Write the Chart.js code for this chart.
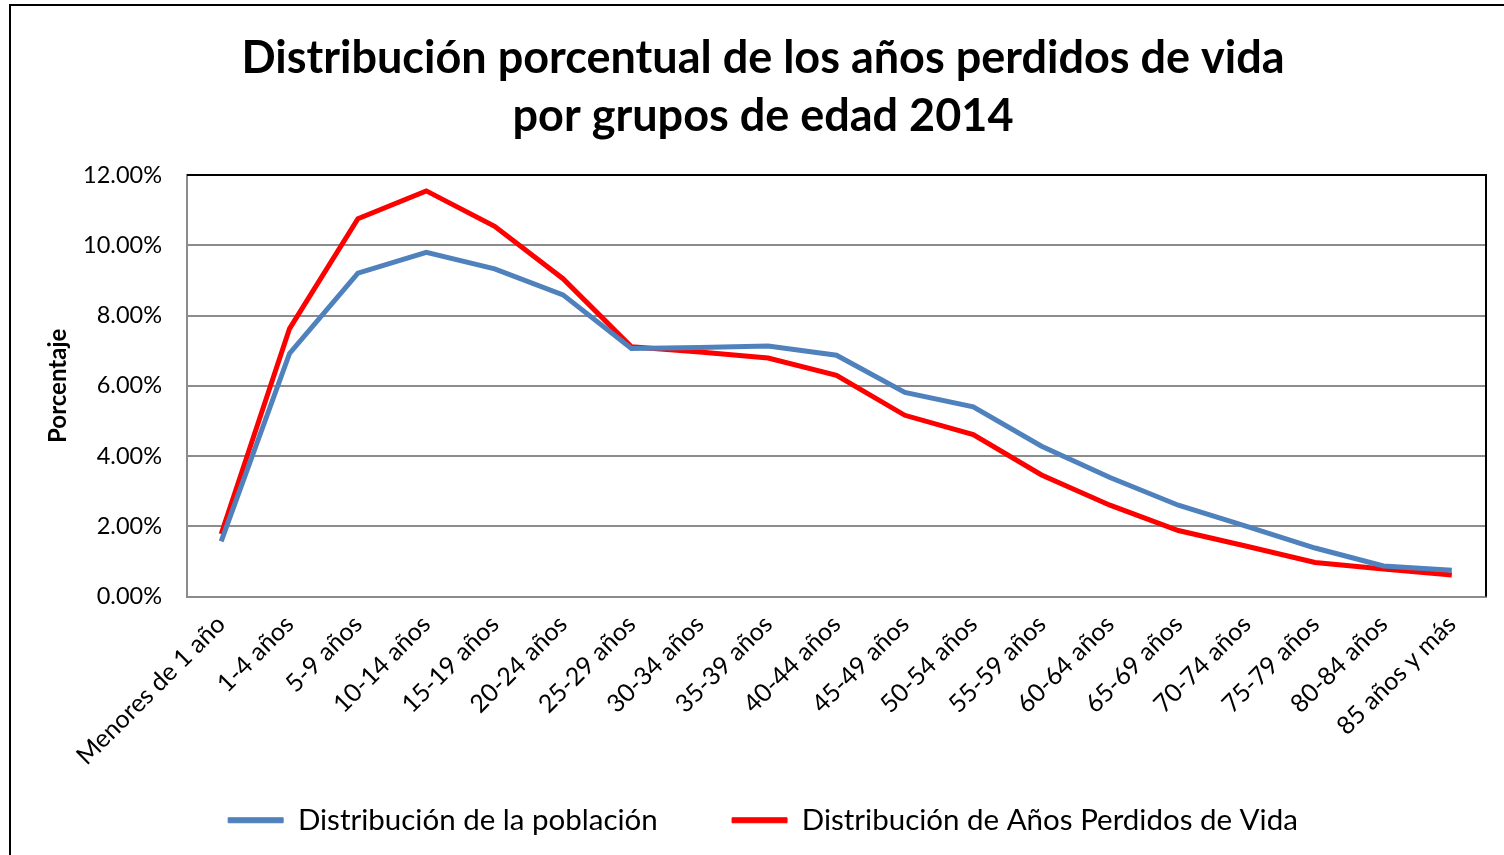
<!DOCTYPE html>
<html>
<head>
<meta charset="utf-8">
<script src="https://cdn.jsdelivr.net/npm/chart.js@4.4.1/dist/chart.umd.min.js"></script>
<style>
    html, body { margin: 0; padding: 0; background: #fff; overflow: hidden; }
    #frame { position: absolute; left: 9px; top: 4px; width: 1600px; height: 1000px; border: 2px solid #000; }
    #wrap { position: absolute; left: 0; top: 0; width: 1504px; height: 855px; }
</style>
</head>
<body>
<div id="frame"></div>
<div id="wrap"><canvas id="chart"></canvas></div>
<script>
const categories = ['Menores de 1 año', '1-4 años', '5-9 años', '10-14 años', '15-19 años', '20-24 años',
    '25-29 años', '30-34 años', '35-39 años', '40-44 años', '45-49 años', '50-54 años', '55-59 años',
    '60-64 años', '65-69 años', '70-74 años', '75-79 años', '80-84 años', '85 años y más'];
const poblacion = [1.57, 6.92, 9.21, 9.80, 9.33, 8.59, 7.06, 7.09, 7.13, 6.87, 5.81, 5.40, 4.28, 3.39, 2.60, 2.00, 1.38, 0.87, 0.75];
const aniosPerdidos = [1.78, 7.63, 10.76, 11.55, 10.54, 9.05, 7.11, 6.96, 6.79, 6.30, 5.16, 4.61, 3.46, 2.60, 1.88, 1.43, 0.97, 0.78, 0.61];
const yTicks = [0, 2, 4, 6, 8, 10, 12];

const font = 'Lato, Calibri, Carlito, sans-serif';

// top and right border of the plot area
const plotFrame = {
    id: 'plotFrame',
    afterDraw(chart) {
        const { ctx, chartArea: a } = chart;
        ctx.save();
        ctx.strokeStyle = '#000';
        ctx.lineWidth = 2;
        ctx.beginPath();
        ctx.moveTo(a.left, a.top);
        ctx.lineTo(a.right, a.top);
        ctx.lineTo(a.right, a.bottom);
        ctx.stroke();
        ctx.restore();
    }
};

let ctx = document.getElementById('chart').getContext('2d');
new Chart(ctx, {
    type: 'line',
    data: {
        labels: categories,
        datasets: [{
            label: 'Distribución de la población',
            data: poblacion,
            borderColor: '#4F81BD',
            backgroundColor: '#4F81BD',
            borderWidth: 5,
            pointRadius: 0,
            tension: 0
        }, {
            label: 'Distribución de Años Perdidos de Vida',
            data: aniosPerdidos,
            borderColor: '#FF0000',
            backgroundColor: '#FF0000',
            borderWidth: 5,
            pointRadius: 0,
            tension: 0
        }]
    },
    options: {
        responsive: true,
        maintainAspectRatio: false,
        animation: false,
        layout: { padding: { left: 40, right: 18, top: 5, bottom: 10 } },
        plugins: {
            title: {
                display: true,
                text: ['Distribución porcentual de los años perdidos de vida', 'por grupos de edad 2014'],
                color: '#000',
                font: { family: font, size: 45, weight: 'bold', lineHeight: 1.29 },
                padding: { top: 24, bottom: 30 }
            },
            legend: {
                position: 'bottom',
                labels: {
                    color: '#000',
                    font: { family: font, size: 29.5 },
                    boxWidth: 55,
                    boxHeight: 5,
                    padding: 29,
                    // wider gap between the two entries, thin line markers
                    generateLabels(chart) {
                        const items = Chart.defaults.plugins.legend.labels.generateLabels(chart);
                        items[0].text += '      ';
                        items.forEach(it => { it.lineWidth = 1; });
                        return items;
                    }
                }
            },
            tooltip: { enabled: false }
        },
        scales: {
            x: {
                offset: true,
                grid: { display: false },
                border: { color: '#8c8c8c', width: 2 },
                ticks: {
                    color: '#000',
                    font: { family: font, size: 25 },
                    minRotation: 45,
                    maxRotation: 45,
                    autoSkip: false,
                    padding: 5
                },
                afterFit(scale) { scale.height = 180; }
            },
            y: {
                min: 0,
                max: 12,
                afterBuildTicks(scale) { scale.ticks = yTicks.map(v => ({ value: v })); },
                grid: { color: '#8c8c8c', lineWidth: 2, drawTicks: false, tickLength: 0 },
                border: { color: '#8c8c8c', width: 2 },
                ticks: {
                    color: '#000',
                    font: { family: font, size: 23.5 },
                    padding: 25,
                    callback: v => v.toFixed(2) + '%'
                },
                title: {
                    display: true,
                    text: 'Porcentaje',
                    color: '#000',
                    font: { family: font, size: 24, weight: 'bold' }
                },
                afterFit(scale) { scale.width = 147; }
            }
        }
    },
    plugins: [plotFrame]
});
</script>
</body>
</html>
